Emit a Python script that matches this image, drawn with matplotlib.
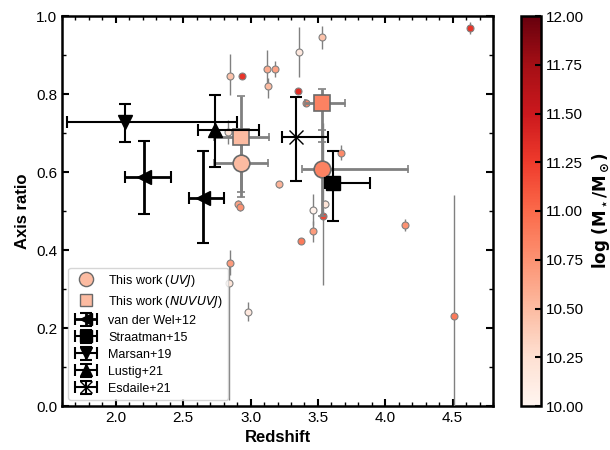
import matplotlib
matplotlib.use("Agg")
import matplotlib.pyplot as plt
import numpy as np
from matplotlib.lines import Line2D
from matplotlib.container import ErrorbarContainer
from matplotlib.legend_handler import HandlerErrorbar

# individual galaxies: redshift, axis ratio, lower/upper error, log stellar mass
gal_z = [2.848, 2.934, 3.122, 3.183, 3.130, 3.363, 3.531, 3.349, 3.408, 2.830,
         3.213, 2.905, 2.920, 3.674, 3.551, 3.467, 3.536, 3.460, 3.378, 4.147,
         4.507, 2.848, 2.840, 2.980, 4.630]
gal_q = [0.847, 0.845, 0.863, 0.864, 0.820, 0.908, 0.945, 0.808, 0.778, 0.703,
         0.568, 0.517, 0.510, 0.650, 0.517, 0.503, 0.486, 0.448, 0.422, 0.465,
         0.231, 0.366, 0.315, 0.242, 0.970]
gal_qlo = [0.05, 0.0, 0.05, 0.02, 0.03, 0.065, 0.03, 0.0, 0.01, 0.03,
           0.01, 0.01, 0.01, 0.02, 0.01, 0.04, 0.175, 0.027, 0.0, 0.015,
           0.31, 0.03, 0.30, 0.025, 0.015]
gal_qhi = [0.055, 0.0, 0.05, 0.02, 0.02, 0.065, 0.03, 0.0, 0.01, 0.03,
           0.01, 0.01, 0.01, 0.02, 0.01, 0.04, 0.24, 0.027, 0.0, 0.015,
           0.31, 0.035, 0.05, 0.025, 0.015]
gal_mass = [10.45, 11.3, 10.6, 10.65, 10.5, 10.15, 10.45, 11.35, 10.85, 10.2,
            10.55, 10.65, 10.75, 10.8, 10.2, 10.05, 11.2, 10.7, 10.9, 10.75,
            10.9, 10.7, 10.2, 10.15, 11.3]

# this work, stacked
uvj_z = [2.93, 3.53]
uvj_q = [0.623, 0.608]
uvj_zerr = [[0.2, 0.15], [0.2, 0.64]]
uvj_qerr = [[0.087, 0.12], [0.07, 0.1]]
uvj_mass = [10.5, 10.85]

nuv_z = [2.93, 3.53]
nuv_q = [0.69, 0.778]
nuv_zerr = [[0.2, 0.125], [0.21, 0.17]]
nuv_qerr = [[0.14, 0.1], [0.105, 0.035]]
nuv_mass = [10.5, 10.85]

# literature
vdw_z = [2.21, 2.646]
vdw_q = [0.586, 0.534]
vdw_zerr = [[0.14, 0.105], [0.2, 0.155]]
vdw_qerr = [[0.094, 0.116], [0.093, 0.119]]

str_z = [3.61]
str_q = [0.571]
str_zerr = [[0.06], [0.28]]
str_qerr = [[0.096], [0.083]]

mar_z = [2.07]
mar_q = [0.727]
mar_zerr = [[0.43], [0.83]]
mar_qerr = [[0.051], [0.047]]

lus_z = [2.735]
lus_q = [0.708]
lus_zerr = [[0.125], [0.33]]
lus_qerr = [[0.096], [0.09]]

esd_z = [3.336]
esd_q = [0.690]
esd_zerr = [[0.104], [0.24]]
esd_qerr = [[0.113], [0.103]]

plt.rcParams['font.family'] = ['Liberation Sans', 'DejaVu Sans']
plt.rcParams['mathtext.fontset'] = 'dejavusans'
plt.rcParams['xtick.direction'] = 'in'
plt.rcParams['ytick.direction'] = 'in'

fig = plt.figure(figsize=(6.1, 4.5), dpi=100)
ax = fig.add_axes([62/610, 44/450, 431/610, 390/450])
cax = fig.add_axes([521/610, 44/450, 20/610, 390/450])

cmap = plt.get_cmap('Reds')
norm = matplotlib.colors.Normalize(vmin=10, vmax=12)

# individual galaxies
for i in range(len(gal_z)):
    ax.errorbar(gal_z[i], gal_q[i], yerr=[[gal_qlo[i]], [gal_qhi[i]]], fmt='o',
                ms=5, mfc=cmap(norm(gal_mass[i])), mec='gray', mew=0.8,
                ecolor='gray', elinewidth=1, capsize=0, zorder=3)

# this work
for i in range(2):
    ax.errorbar(nuv_z[i], nuv_q[i], xerr=[[nuv_zerr[0][i]], [nuv_zerr[1][i]]],
                yerr=[[nuv_qerr[0][i]], [nuv_qerr[1][i]]], fmt='s', ms=11,
                mfc=cmap(norm(nuv_mass[i])), mec='dimgray', mew=1.2,
                ecolor='gray', elinewidth=2, capsize=3, capthick=1.5, zorder=4)
    ax.errorbar(uvj_z[i], uvj_q[i], xerr=[[uvj_zerr[0][i]], [uvj_zerr[1][i]]],
                yerr=[[uvj_qerr[0][i]], [uvj_qerr[1][i]]], fmt='o', ms=12,
                mfc=cmap(norm(uvj_mass[i])), mec='dimgray', mew=1.2,
                ecolor='gray', elinewidth=2, capsize=3, capthick=1.5, zorder=4)

e1 = ax.errorbar(vdw_z, vdw_q, xerr=vdw_zerr, yerr=vdw_qerr, fmt='<', ms=10,
                 color='k', elinewidth=2, capsize=4, capthick=1.5, zorder=5)
e2 = ax.errorbar(str_z, str_q, xerr=str_zerr, yerr=str_qerr, fmt='s', ms=10,
                 color='k', elinewidth=1.5, capsize=4, capthick=1.5, zorder=5)
e3 = ax.errorbar(mar_z, mar_q, xerr=mar_zerr, yerr=mar_qerr, fmt='v', ms=10,
                 color='k', elinewidth=1.5, capsize=4, capthick=1.5, zorder=5)
e4 = ax.errorbar(lus_z, lus_q, xerr=lus_zerr, yerr=lus_qerr, fmt='^', ms=10,
                 color='k', elinewidth=1.5, capsize=4, capthick=1.5, zorder=5)
e5 = ax.errorbar(esd_z, esd_q, xerr=esd_zerr, yerr=esd_qerr, fmt='x', ms=10,
                 color='k', elinewidth=1.5, capsize=4, capthick=1.5, zorder=5)

h1 = Line2D([], [], marker='o', ls='none', ms=12, mfc=cmap(norm(10.5)), mec='dimgray')
h2 = Line2D([], [], marker='s', ls='none', ms=11, mfc=cmap(norm(10.5)), mec='dimgray')
ax.legend([h1, h2, e1, e2, e3, e4, e5],
          ['This work ($UVJ$)', 'This work ($NUVUVJ$)', 'van der Wel+12',
           'Straatman+15', 'Marsan+19', 'Lustig+21', 'Esdaile+21'],
          loc='lower left', fontsize=9, framealpha=0.8, handlelength=2.0,
          labelspacing=0.4, borderpad=0.4, markerscale=0.85,
          handler_map={ErrorbarContainer: HandlerErrorbar(xerr_size=0.9, yerr_size=0.5)})

ax.set_xlim(1.6, 4.8)
ax.set_ylim(0, 1)
ax.set_xticks([2.0, 2.5, 3.0, 3.5, 4.0, 4.5])
ax.xaxis.set_minor_locator(matplotlib.ticker.MultipleLocator(0.1))
ax.yaxis.set_minor_locator(matplotlib.ticker.MultipleLocator(0.1))
ax.tick_params(which='both', top=True, right=True, labelsize=11)
ax.tick_params(which='major', length=5, width=1.5)
ax.tick_params(which='minor', length=3, width=1)
for s in ax.spines.values():
    s.set_linewidth(1.8)
ax.set_xlabel('Redshift', fontsize=12, fontweight='bold')
ax.set_ylabel('Axis ratio', fontsize=12, fontweight='bold')

sm = matplotlib.cm.ScalarMappable(norm=norm, cmap=cmap)
cb = fig.colorbar(sm, cax=cax)
cb.set_ticks(np.arange(10, 12.01, 0.25))
cb.ax.tick_params(labelsize=11, width=1.5, length=4, direction='in')
cb.outline.set_linewidth(1.8)
cb.set_label(r'$\mathbf{log\ (M_\star/M_\odot)}$', fontsize=12, labelpad=4)

fig.savefig('out.png', dpi=100)
